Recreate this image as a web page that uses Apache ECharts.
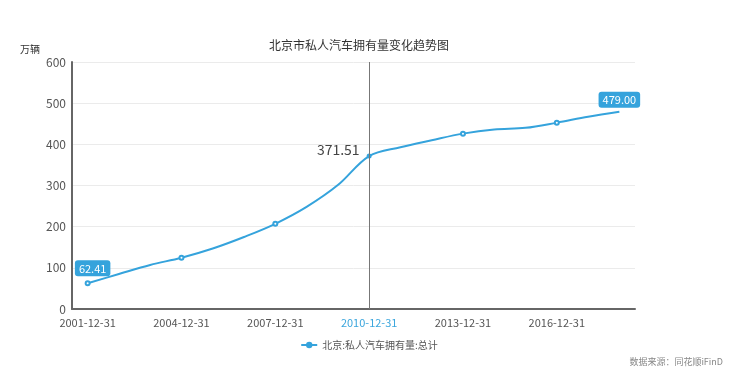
<!DOCTYPE html>
<html><head><meta charset="utf-8">
<script src="https://cdn.jsdelivr.net/npm/echarts@6/dist/echarts.min.js"></script>
<style>html,body{margin:0;padding:0;background:#fff}#c{width:738px;height:387px}</style>
</head><body><div id="c"></div>
<script>
const categories = ['2001-12-31','2002-12-31','2003-12-31','2004-12-31','2005-12-31','2006-12-31','2007-12-31','2008-12-31','2009-12-31','2010-12-31','2011-12-31','2012-12-31','2013-12-31','2014-12-31','2015-12-31','2016-12-31','2017-12-31','2018-12-31'];
const values = [62.41, 85, 107, 124.6, 147, 175, 207, 248, 301, 371.51, 393, 410, 426, 436, 440, 452.6, 467, 479.00];
const seriesName = '北京:私人汽车拥有量:总计';
const titleText = '北京市私人汽车拥有量变化趋势图';
const yTicks = [0, 100, 200, 300, 400, 500, 600];
const highlightCat = '2010-12-31';

const FONT = '"Noto Sans CJK SC", "Noto Sans", sans-serif';
const blue = '#35a3dc';
const lastIdx = values.length - 1;
const hiIdx = categories.indexOf(highlightCat);

const data = values.map((v, i) => {
  const item = { value: v, symbol: 'circle', symbolSize: 0.1 };
  if (i % 3 === 0 && i !== lastIdx) {
    item.symbol = 'emptyCircle'; item.symbolSize = 4;
    item.itemStyle = { borderWidth: 1, color: blue };
  }
  if (i === hiIdx) {
    item.symbol = 'circle'; item.symbolSize = 5;
    item.itemStyle = { color: blue };
    item.label = { show: true, position: 'left', offset: [-2, -6], formatter: v.toFixed(2), color: '#444', fontSize: 14, fontFamily: FONT };
  }
  if (i === 0 || i === lastIdx) {
    item.label = { show: true, position: 'top', distance: 4, offset: i === 0 ? [5, 0] : [0, 0], formatter: v.toFixed(2),
      color: '#fff', backgroundColor: blue, borderRadius: 3, padding: [3, 4, 2, 4], fontSize: 11, fontFamily: FONT };
  }
  return item;
});

const chart = echarts.init(document.getElementById('c'));
chart.setOption({
  animation: false,
  title: { text: titleText, left: 354, textAlign: 'center', top: 34, textStyle: { fontSize: 12, fontWeight: 'normal', color: '#333', fontFamily: FONT } },
  grid: { left: 72, right: 103, top: 62, bottom: 78 },
  legend: { bottom: 32, left: 'center', itemWidth: 16, itemHeight: 8, data: [seriesName], textStyle: { fontSize: 10, color: '#555', fontFamily: FONT } },
  graphic: [{ type: 'text', right: 15, top: 357, style: { text: '数据来源：同花顺iFinD', fill: '#888', font: '9px ' + FONT } }],
  xAxis: {
    type: 'category', data: categories, boundaryGap: true,
    axisLine: { lineStyle: { color: '#666', width: 2 } },
    axisTick: { show: false },
    axisLabel: { interval: 2, fontSize: 11, fontFamily: FONT, margin: 8, color: (v) => v === highlightCat ? '#3ba6dd' : '#555' }
  },
  yAxis: {
    type: 'value', min: yTicks[0], max: yTicks[yTicks.length - 1], interval: 100,
    name: '万辆', nameLocation: 'end', nameGap: 0,
    nameTextStyle: { fontSize: 10, color: '#333', fontFamily: FONT, align: 'right', padding: [0, 32, 8, 0] },
    axisLine: { show: true, lineStyle: { color: '#666', width: 2 } },
    axisTick: { show: false },
    splitLine: { lineStyle: { color: '#ebebeb' } },
    axisLabel: { fontSize: 12, color: '#555', fontFamily: FONT, margin: 6 }
  },
  series: [{
    type: 'line', name: seriesName, data: data, smooth: 0.35, symbol: 'circle',
    lineStyle: { color: blue, width: 2 }, itemStyle: { color: blue },
    markLine: { silent: true, symbol: 'none', label: { show: false }, lineStyle: { color: '#777', width: 1, type: 'solid' }, data: [{ xAxis: highlightCat }] }
  }]
});
</script></body></html>
